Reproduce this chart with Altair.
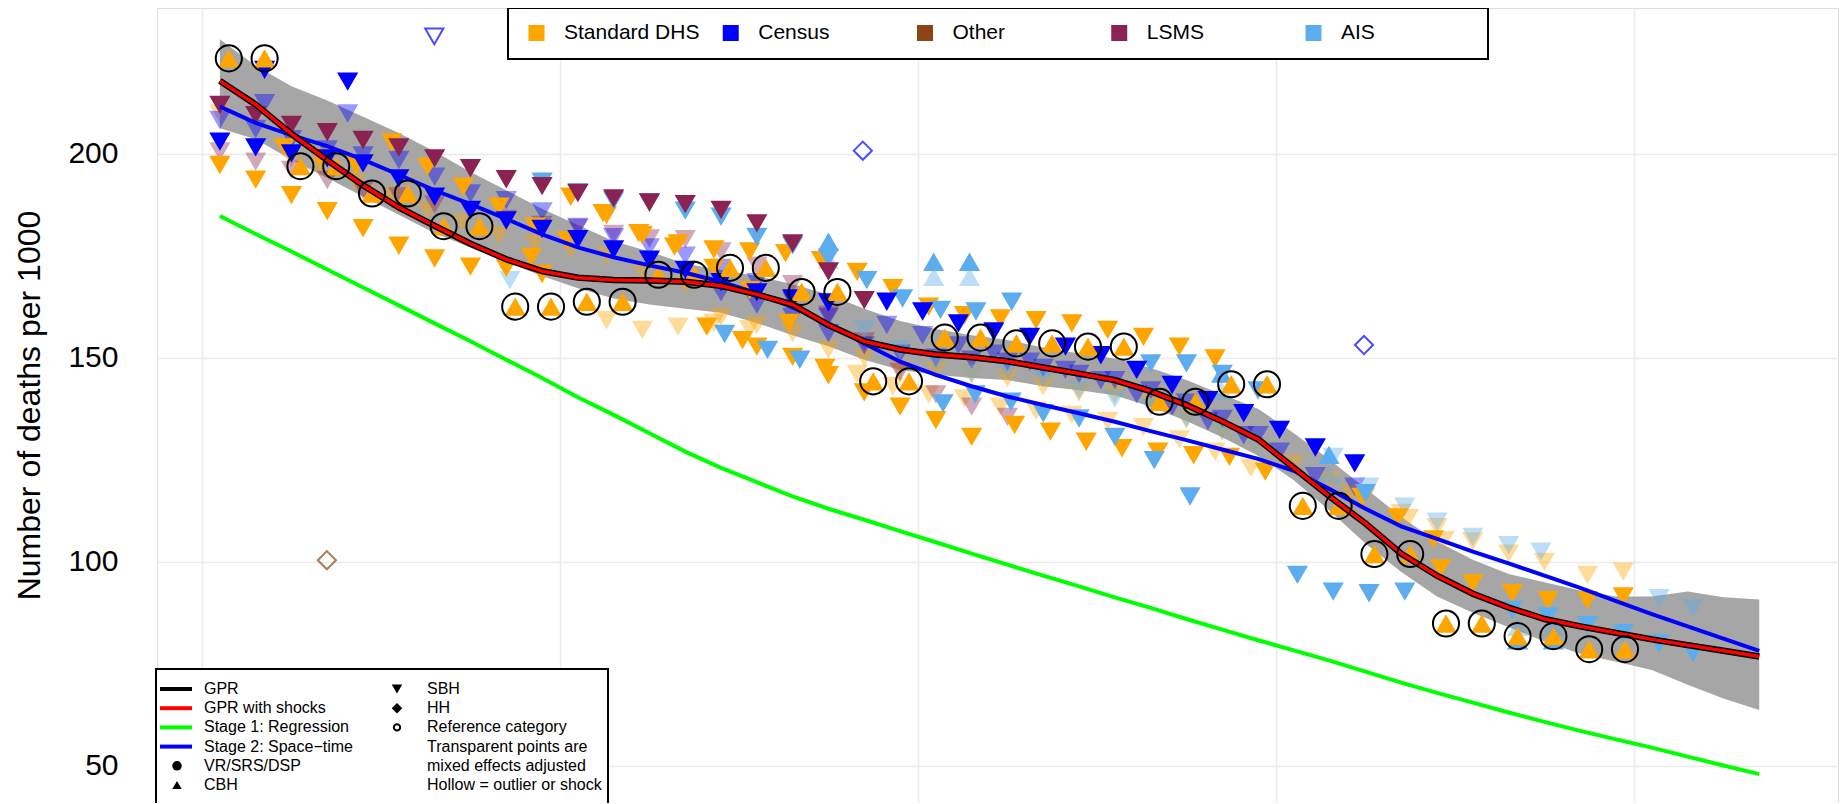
import altair as alt
import pandas as pd

# ---------------- smooth estimates (x = year + 0.5) ----------------
LINE_YEARS = list(range(1970, 2014))
GPR = [217.8, 212.0, 204.8, 198.4, 192.2, 186.8, 182.3, 177.9, 174.1, 171.2,
       169.6, 169.0, 168.9, 168.6, 167.6, 165.5, 163.0, 158.0, 154.0, 152.0,
       150.8, 150.1, 149.1, 147.6, 146.1, 144.5, 141.8, 138.4, 134.4, 130.0,
       123.0, 116.0, 109.4, 102.0, 96.6, 92.2, 88.8, 86.0, 84.2, 82.6,
       81.0, 79.6, 78.2, 76.8]
STAGE2 = [211.5, 207.5, 204.5, 201.8, 198.5, 194.8, 191.0, 187.6, 184.0, 180.2,
          177.0, 174.6, 172.6, 170.8, 168.6, 165.8, 162.3, 158.3, 153.5, 149.0,
          145.8, 143.0, 140.5, 138.4, 136.4, 134.3, 132.0, 129.8, 127.5, 125.2,
          122.3, 117.8, 113.0, 108.7, 105.6, 102.5, 99.6, 96.6, 93.6, 90.4,
          87.2, 84.2, 81.2, 78.2]
STAGE1 = [184.7, 180.3, 176.0, 171.6, 167.2, 162.8, 158.4, 154.0, 149.5, 145.0,
          140.3, 136.0, 131.5, 127.0, 123.0, 119.5, 116.0, 113.0, 110.3, 107.5,
          104.8, 102.0, 99.3, 96.6, 94.0, 91.3, 88.7, 86.0, 83.4, 80.8,
          78.3, 75.8, 73.1, 70.4, 67.9, 65.5, 63.1, 60.8, 58.6, 56.5,
          54.5, 52.3, 50.1, 48.0]
BAND_HI = [228.0, 221.5, 216.5, 213.0, 209.0, 205.0, 200.5, 195.5, 191.0, 186.5,
           182.5, 178.5, 176.0, 173.0, 171.5, 170.0, 168.0, 165.5, 162.0, 159.0,
           157.0, 155.5, 154.3, 152.5, 151.0, 149.8, 147.5, 144.5, 141.0, 137.5,
           131.5, 125.0, 118.0, 111.0, 105.0, 100.5, 97.0, 95.0, 93.0, 91.5,
           91.5, 92.7, 91.3, 90.8]
BAND_LO = [206.2, 203.5, 198.5, 194.0, 189.5, 185.0, 180.5, 177.0, 173.5, 170.0,
           167.0, 164.5, 163.0, 162.0, 161.0, 158.5, 155.5, 152.8, 149.5, 147.0,
           145.8, 145.0, 144.5, 143.0, 142.0, 140.8, 138.0, 134.5, 130.5, 126.0,
           120.0, 112.5, 104.5, 97.5, 91.5, 87.5, 84.0, 80.5, 77.5, 75.5,
           73.5, 69.9, 66.5, 63.7]

# ---------------- data points ----------------
# reference category CBH (Standard DHS, circled)
REF_X = [1970.75 + i for i in range(40)]
REF_Y = [223.3, 223.3, 196.9, 196.9, 190.2, 190.2, 182.2, 182.2, 162.5, 162.5,
         163.7, 163.7, 170.3, 170.3, 172.0, 172.0, 166.1, 166.1, 144.2, 144.2,
         154.9, 154.9, 153.5, 153.5, 152.7, 152.7, 139.2, 139.2, 143.5, 143.5,
         113.7, 113.7, 101.9, 101.9, 84.9, 84.9, 81.8, 81.8, 78.6, 78.6]

LSMS_X = [1970.5 + i for i in range(19)]
LSMS_Y = [211.9, 209.4, 207.0, 205.2, 203.3, 201.5, 198.8, 196.4, 193.7, 192.0,
          190.3, 189.0, 188.0, 187.6, 186.2, 182.9, 178.0, 171.1, 164.1]
LSMS_T_Y = [200.5, 198.0, 196.0, 193.5, 191.0, 189.5, 187.5, 186.0, 184.0, 182.5,
            181.8, 180.3, 179.2, 179.0, 176.0, 172.5, 168.0, 160.5, 154.0]
LSMS_T2_X = [1989.5, 1990.5, 1991.5, 1992.5]
LSMS_T2_Y = [146.5, 141.0, 138.0, 135.5]

CEN_A_X = [1970.5 + i for i in range(18)]
CEN_A_Y = [202.9, 201.5, 200.0, 198.8, 197.6, 193.9, 189.4, 186.2, 183.6, 181.5,
           179.0, 176.5, 174.0, 171.5, 168.5, 166.0, 164.5, 163.5]
CEN_A_T_Y = [208.2, 206.0, 203.5, 201.0, 199.5, 198.4, 194.3, 190.2, 188.6, 185.8,
             182.0, 179.5, 177.0, 175.0, 172.0, 168.5, 164.0, 160.0]
CEN_B_X = [1989.13, 1990.13, 1991.13, 1992.12, 1993.12, 1994.12, 1995.11, 1996.11,
           1997.1, 1998.1, 1999.1, 2000.1, 2001.1, 2002.2]
CEN_B_Y = [163.7, 161.3, 158.4, 156.4, 155.1, 152.7, 150.6, 147.0, 143.3, 139.6,
           136.4, 132.3, 128.0, 124.1]
CEN_B_T_Y = [158.0, 155.5, 153.0, 151.0, 149.0, 147.0, 144.5, 141.0, 138.0, 134.5,
             131.0, 127.0, 121.0, 118.4]
CEN_C_X = [1971.75, 1974.07]
CEN_C_Y = [220.5, 217.6]
CEN_C_T_Y = [212.3, 209.8]
CEN_T2_X = [1984.5 + i for i in range(16)]
CEN_T2_Y = [166.0, 163.0, 160.0, 156.0, 153.0, 151.0, 150.0, 149.5, 149.0, 147.5,
            146.0, 144.5, 142.0, 139.0, 135.0, 131.0]

DHS_A_X = [1970.5 + i for i in range(10)]
DHS_A_Y = [197.2, 193.6, 189.8, 185.9, 181.7, 177.4, 174.3, 172.3, 172.0, 170.5]
DHS_B_X = [1972.3 + i for i in range(27)]
DHS_B_Y = [201.5, 199.0, 197.0, 202.7, 196.8, 191.9, 187.0, 182.1, 189.4, 184.9,
           180.0, 178.0, 176.5, 176.0, 175.6, 173.9, 171.0, 167.0, 162.5, 160.4,
           159.6, 159.2, 158.4, 156.8, 155.1, 152.7, 149.8]
DHS_C_X = [1987.5, 1988.5, 1989.5, 1990.5, 1991.5, 1992.7, 1993.7, 1994.7, 1995.7,
           1996.7, 1997.7, 1998.7, 1999.7]
DHS_C_Y = [145.7, 141.5, 138.0, 134.7, 130.6, 133.5, 131.9, 129.4, 127.8, 127.0,
           126.1, 125.7, 122.1]
DHS_D_X = [2002.4, 2003.4, 2004.4, 2005.5, 2006.6, 2007.6, 2008.7, 2009.7]
DHS_D_Y = [115.9, 110.9, 105.5, 94.7, 92.3, 90.6, 90.6, 91.5]
DHS_E_X = [2004.6]
DHS_E_Y = [98.4]
DHS_F_X = [1979.2, 1980.2, 1981.2, 1982.2, 1983.2, 1984.3, 1985.3, 1986.4, 1987.4]
DHS_F_Y = [174.7, 178.8, 185.4, 180.5, 177.2, 172.0, 166.5, 158.5, 147.5]
DHS_G_X = [1984.1, 1985.1, 1985.5, 1986.5]
DHS_G_Y = [157.6, 154.3, 152.7, 150.2]
DHS_T_X = [1970.5, 1972.5, 1973.3, 1974.3, 1975.3, 1976.3, 1977.3, 1978.3, 1979.3,
           1980.3, 1981.3, 1982.3, 1983.5, 1984.5, 1985.5, 1986.5, 1987.5, 1988.5,
           1989.5, 1990.5, 1991.5, 1992.5, 1993.5, 1994.5, 1995.5, 1996.5, 1997.5,
           1998.5, 1999.5, 2000.5, 2001.5, 2002.5, 2003.5, 2004.5, 2005.5, 2006.5,
           2007.5, 2008.7, 2009.7]
DHS_T_Y = [209.8, 198.8, 196.5, 193.0, 189.5, 186.0, 183.0, 180.0, 178.0,
           176.5, 175.0, 171.0, 168.0, 160.0, 158.0, 156.0, 152.0, 150.0,
           147.0, 147.0, 146.0, 145.0, 143.0, 141.5, 141.0, 139.0, 135.0,
           132.0, 128.0, 124.0, 120.0, 116.0, 112.0, 108.5, 105.0, 102.0,
           100.0, 96.8, 97.6]
DHS_T2_X = [1981.3, 1982.3, 1983.3, 1984.3, 1985.3, 1988.3, 1989.3, 1990.3, 1991.3,
            1992.3, 1993.3, 1994.3, 1995.3, 1996.3, 1997.3, 1998.3, 1999.3,
            2002.1, 2003.7, 2004.7]
DHS_T2_Y = [159.2, 156.8, 157.6, 158.5, 157.0, 146.0, 143.0, 141.0, 140.0,
            138.0, 137.0, 136.0, 134.5, 133.0, 130.0, 127.0, 123.0,
            116.8, 110.7, 105.3]

AIS_A_X = [1979.5, 1980.5, 1981.5, 1982.5, 1983.5, 1984.5, 1985.5, 1986.5, 1987.5,
           1988.57, 1989.57, 1990.63, 1991.62, 1992.62]
AIS_A_Y = [193.1, 190.5, 188.5, 188.0, 186.0, 184.5, 179.6, 177.5, 174.5,
           169.0, 164.5, 161.7, 161.3, 163.7]
AIS_B_X = [1990.7, 1991.6, 1992.6, 1993.5, 1994.5, 1995.5, 1996.6, 1997.6]
AIS_B_Y = [138.8, 141.0, 139.2, 136.4, 135.1, 130.6, 124.9, 116.0]
AIS_B2_X = [1996.5, 1997.5, 1998.5, 1999.5, 2002.5]
AIS_B2_Y = [148.6, 148.6, 146.0, 142.0, 116.8]
AIS_D_X = [1984.6, 1985.8, 1986.7]
AIS_D_Y = [155.8, 151.9, 149.5]
AIS_C_X = [2000.6, 2001.6, 2002.6, 2003.6, 2006.6, 2007.6, 2008.7, 2009.7, 2010.7, 2011.65]
AIS_C_Y = [96.8, 92.7, 92.3, 92.7, 88.2, 86.6, 84.5, 82.5, 80.0, 77.6]
AIS_T_X = [2001.6, 2002.6, 2003.6, 2004.5, 2005.5, 2006.5, 2007.4, 2010.7, 2011.65]
AIS_T_Y = [125.7, 118.4, 113.5, 109.8, 106.1, 104.1, 102.5, 91.1, 88.6]
AIS_T2_X = [1978.6, 1988.5, 1989.5, 1990.5, 1991.5, 1992.5, 1993.5, 1994.5, 1995.5,
            1996.5, 1997.5, 1998.5, 1999.5]
AIS_T2_Y = [169.0, 157.0, 152.0, 149.0, 146.0, 147.0, 145.0, 142.0, 140.0,
            138.0, 135.0, 132.0, 128.0]
AIS_CBH_X = [1987.5, 1990.44, 1991.44, 1998.48, 2001.48, 2006.75, 2007.75]
AIS_CBH_Y = [178.4, 173.5, 173.5, 146.1, 126.2, 80.8, 80.8]
AIS_CBH_T_Y = [174.0, 169.8, 169.8, 142.0, 121.5, 84.0, 84.0]

# outliers (hollow)
OUT_X = [1976.49, 1973.49, 1988.46, 2002.46]
OUT_Y = [228.7, 100.4, 200.7, 153.1]
OUT_SRC = ["Census", "Other", "Census", "Census"]
OUT_SHAPE = ["triangle-down", "diamond", "diamond", "diamond"]

SOURCES = ["Standard DHS", "Census", "Other", "LSMS", "AIS"]
SOURCE_COLORS = ["#FFA500", "#0000FF", "#8B4513", "#8B2252", "#5CACEE"]

# ---------------- tables ----------------
lines = pd.DataFrame({"year": LINE_YEARS, "gpr": GPR, "st2": STAGE2,
                      "st1": STAGE1, "hi": BAND_HI, "lo": BAND_LO})

rows = []
def add(xs, ys, src, shape, alpha):
    for x, y in zip(xs, ys):
        rows.append({"x": x, "y": y, "src": src, "shape": shape, "alpha": alpha})

TD, TU = "triangle-down", "triangle-up"
add(DHS_T_X, DHS_T_Y, "Standard DHS", TD, 0.4)
add(DHS_T2_X, DHS_T2_Y, "Standard DHS", TD, 0.4)
add(LSMS_X, LSMS_T_Y, "LSMS", TD, 0.4)
add(LSMS_T2_X, LSMS_T2_Y, "LSMS", TD, 0.4)
add(CEN_A_X, CEN_A_T_Y, "Census", TD, 0.4)
add(CEN_B_X, CEN_B_T_Y, "Census", TD, 0.4)
add(CEN_C_X, CEN_C_T_Y, "Census", TD, 0.4)
add(CEN_T2_X, CEN_T2_Y, "Census", TD, 0.4)
add(AIS_T_X, AIS_T_Y, "AIS", TD, 0.4)
add(AIS_T2_X, AIS_T2_Y, "AIS", TD, 0.4)
add(AIS_CBH_X, AIS_CBH_T_Y, "AIS", TU, 0.4)
add(DHS_A_X, DHS_A_Y, "Standard DHS", TD, 1.0)
add(DHS_B_X, DHS_B_Y, "Standard DHS", TD, 1.0)
add(DHS_C_X, DHS_C_Y, "Standard DHS", TD, 1.0)
add(DHS_D_X, DHS_D_Y, "Standard DHS", TD, 1.0)
add(DHS_E_X, DHS_E_Y, "Standard DHS", TD, 1.0)
add(DHS_F_X, DHS_F_Y, "Standard DHS", TD, 1.0)
add(DHS_G_X, DHS_G_Y, "Standard DHS", TD, 1.0)
add(AIS_A_X, AIS_A_Y, "AIS", TD, 1.0)
add(AIS_B_X, AIS_B_Y, "AIS", TD, 1.0)
add(AIS_B2_X, AIS_B2_Y, "AIS", TD, 1.0)
add(AIS_C_X, AIS_C_Y, "AIS", TD, 1.0)
add(AIS_D_X, AIS_D_Y, "AIS", TD, 1.0)
add(AIS_CBH_X, AIS_CBH_Y, "AIS", TU, 1.0)
add(CEN_A_X, CEN_A_Y, "Census", TD, 1.0)
add(CEN_B_X, CEN_B_Y, "Census", TD, 1.0)
add(CEN_C_X, CEN_C_Y, "Census", TD, 1.0)
add(LSMS_X, LSMS_Y, "LSMS", TD, 1.0)
add(REF_X, REF_Y, "Standard DHS", TU, 1.0)
pts = pd.DataFrame(rows)

ref = pd.DataFrame({"x": REF_X, "y": REF_Y})
out = pd.DataFrame({"x": OUT_X, "y": OUT_Y, "src": OUT_SRC, "shape": OUT_SHAPE})

FONT = "Liberation Sans"
XDOM = [1968.744, 2015.70]
YDOM = [40.93, 235.64]

xax = alt.Axis(values=[1970, 1980, 1990, 2000, 2010], labels=False, ticks=False,
               domain=False, title=None, grid=True, gridColor="#EBEBEB", gridWidth=1.5)
yax = alt.Axis(values=[50, 100, 150, 200], title="Number of deaths per 1000",
               labelFontSize=30, titleFontSize=32, labelFont=FONT, titleFont=FONT,
               labelColor="black", titleColor="black", titleFontWeight="normal",
               ticks=False, tickSize=0, domain=False, labelPadding=39, grid=True,
               gridColor="#EBEBEB", gridWidth=1.5, titleX=-118, titleY=397,
               titleAngle=-90, titleAlign="center", titleBaseline="alphabetic")

def X(field):
    return alt.X(field, type="quantitative", scale=alt.Scale(domain=XDOM, nice=False, zero=False), axis=xax)

def Y(field):
    return alt.Y(field, type="quantitative", scale=alt.Scale(domain=YDOM, nice=False, zero=False), axis=yax)

color = alt.Color("src:N", scale=alt.Scale(domain=SOURCES, range=SOURCE_COLORS), legend=None)

lbase = alt.Chart(lines).transform_calculate(xm="datum.year + 0.5")
band = lbase.mark_area(color="#A6A6A6", opacity=1).encode(
    x=X("xm"), y=Y("hi"), y2="lo")
st1 = lbase.mark_line(color="#00FF00", strokeWidth=4).encode(x=X("xm"), y=Y("st1"))
st2 = lbase.mark_line(color="#0000FF", strokeWidth=4).encode(x=X("xm"), y=Y("st2"))
gpr_k = lbase.mark_line(color="black", strokeWidth=6.5).encode(x=X("xm"), y=Y("gpr"))
gpr_r = lbase.mark_line(color="#FF0000", strokeWidth=3.5).encode(x=X("xm"), y=Y("gpr"))

points = alt.Chart(pts).mark_point(filled=True, size=450, strokeWidth=0).encode(
    x=X("x"), y=Y("y"), color=color,
    shape=alt.Shape("shape:N", scale=None),
    opacity=alt.Opacity("alpha:Q", scale=None))
hollow = alt.Chart(out).mark_point(filled=False, size=330, strokeWidth=2).encode(
    x=X("x"), y=Y("y"), color=color, shape=alt.Shape("shape:N", scale=None))
rings = alt.Chart(ref).mark_point(shape="circle", filled=False, size=680,
                                  stroke="black", strokeWidth=2, opacity=1).encode(
    x=X("x"), y=Y("y"))

# ---------------- legends ----------------
top_df = pd.DataFrame({"label": SOURCES, "src": SOURCES, "i": list(range(5))})
top_box = alt.Chart(top_df).mark_rect(fill="white", stroke="black", strokeWidth=2).encode(
    x=alt.value(351), x2=alt.value(1331), y=alt.value(0), y2=alt.value(51))
top_sq = alt.Chart(top_df).transform_calculate(px="379.5 + datum.i * 194.25").mark_square(
    size=256, opacity=1).encode(
    x=alt.X("px:Q", scale=None), y=alt.value(25), color=color)
top_tx = alt.Chart(top_df).transform_calculate(px="407 + datum.i * 194.25").mark_text(
    align="left", baseline="middle", fontSize=21, font=FONT, color="black").encode(
    x=alt.X("px:Q", scale=None), y=alt.value(25), text="label:N")

LEG1_LABELS = ["GPR", "GPR with shocks", "Stage 1: Regression", "Stage 2: Space\u2212time",
               "VR/SRS/DSP", "CBH"]
LEG1_COLORS = ["black", "#FF0000", "#00FF00", "#0000FF", "none", "none"]
LEG2_LABELS = ["SBH", "HH", "Reference category", "Transparent points are",
               "mixed effects adjusted", "Hollow = outlier or shock"]
leg1 = pd.DataFrame({"label": LEG1_LABELS, "col": LEG1_COLORS, "r": list(range(6))})
leg2 = pd.DataFrame({"label": LEG2_LABELS, "r": list(range(6))})
ROW = "681 + datum.r * 19.2"

bot_box = alt.Chart(leg1).mark_rect(fill="white", stroke="black", strokeWidth=2).encode(
    x=alt.value(-1), x2=alt.value(451), y=alt.value(661), y2=alt.value(797))
leg_lines = alt.Chart(leg1).transform_filter("datum.r < 4").transform_calculate(
    py=ROW).mark_rule(strokeWidth=4).encode(
    x=alt.value(3), x2=alt.value(35), y=alt.Y("py:Q", scale=None),
    color=alt.Color("col:N", scale=None))
leg1_tx = alt.Chart(leg1).transform_calculate(py=ROW).mark_text(
    align="left", baseline="middle", fontSize=16, font=FONT, color="black").encode(
    x=alt.value(47), y=alt.Y("py:Q", scale=None), text="label:N")
leg2_tx = alt.Chart(leg2).transform_calculate(py=ROW).mark_text(
    align="left", baseline="middle", fontSize=16, font=FONT, color="black").encode(
    x=alt.value(270), y=alt.Y("py:Q", scale=None), text="label:N")
SYM_DF = pd.DataFrame({"r": [4, 5], "shape": ["circle", "triangle-up"]})
sym1 = alt.Chart(SYM_DF).transform_calculate(py=ROW).mark_point(
    filled=True, size=90, color="black", opacity=1).encode(
    x=alt.value(20), y=alt.Y("py:Q", scale=None), shape=alt.Shape("shape:N", scale=None))
SYM2_DF = pd.DataFrame({"r": [0, 1], "shape": ["triangle-down", "diamond"]})
sym2 = alt.Chart(SYM2_DF).transform_calculate(py=ROW).mark_point(
    filled=True, size=110, color="black", opacity=1).encode(
    x=alt.value(240), y=alt.Y("py:Q", scale=None), shape=alt.Shape("shape:N", scale=None))
sym3 = alt.Chart(pd.DataFrame({"r": [2]})).transform_calculate(py=ROW).mark_point(
    filled=False, size=40, color="black", strokeWidth=2, opacity=1).encode(
    x=alt.value(240), y=alt.Y("py:Q", scale=None))

chart = alt.layer(
    band, points, hollow, st1, st2, gpr_k, gpr_r, rings,
    top_box, top_sq, top_tx, bot_box, leg_lines, leg1_tx, leg2_tx, sym1, sym2, sym3
).properties(
    width=1681, height=795,
    autosize=alt.AutoSizeParams(type="none"),
    padding={"left": 149, "right": 1, "top": 0, "bottom": 0},
).configure_view(stroke="black", strokeWidth=2).configure(background="white")

chart.save("out.html", embed_options={"renderer": "svg", "actions": False})
